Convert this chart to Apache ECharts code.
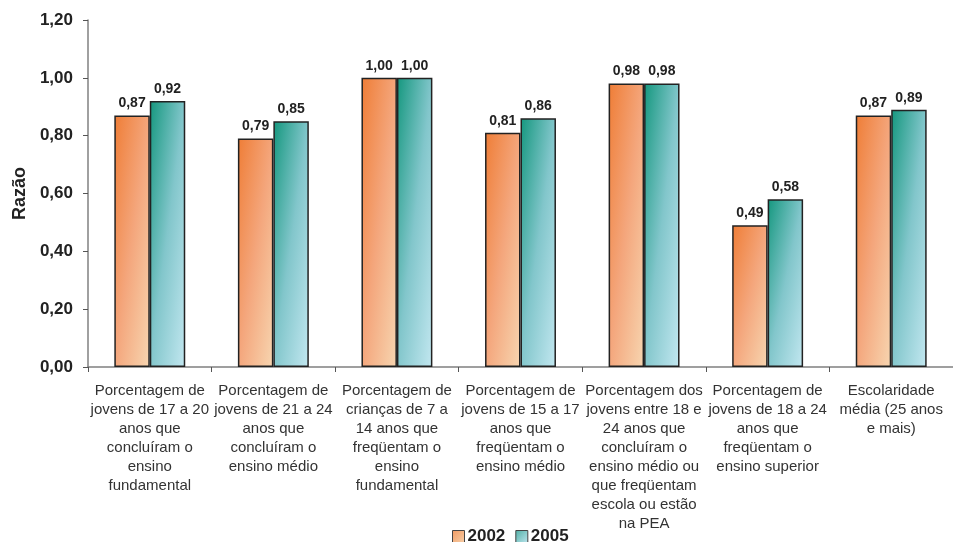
<!DOCTYPE html>
<html>
<head>
<meta charset="utf-8">
<script src="https://cdn.jsdelivr.net/npm/echarts@6/dist/echarts.min.js"></script>
<style>
html,body{margin:0;padding:0;background:#fff;}
#chart{width:953px;height:542px;}
</style>
</head>
<body>
<div id="chart"></div>
<script>
var categories = [
  "Porcentagem de\njovens de 17 a 20\nanos que\nconcluíram o\nensino\nfundamental",
  "Porcentagem de\njovens de 21 a 24\nanos que\nconcluíram o\nensino médio",
  "Porcentagem de\ncrianças de 7 a\n14 anos que\nfreqüentam o\nensino\nfundamental",
  "Porcentagem de\njovens de 15 a 17\nanos que\nfreqüentam o\nensino médio",
  "Porcentagem dos\njovens entre 18 e\n24 anos que\nconcluíram o\nensino médio ou\nque freqüentam\nescola ou estão\nna PEA",
  "Porcentagem de\njovens de 18 a 24\nanos que\nfreqüentam o\nensino superior",
  "Escolaridade\nmédia (25 anos\ne mais)"
];
var values2002 = [0.87, 0.79, 1.00, 0.81, 0.98, 0.49, 0.87];
var values2005 = [0.92, 0.85, 1.00, 0.86, 0.98, 0.58, 0.89];
var seriesNames = ["2002", "2005"];

var FONT = '"Liberation Sans", Arial, Helvetica, sans-serif';

var orangeStops = [
  {offset: 0, color: '#EF7D36'},
  {offset: 0.5, color: '#F4A67C'},
  {offset: 1, color: '#F7D5B0'}
];
var tealStops = [
  {offset: 0, color: '#14977E'},
  {offset: 0.5, color: '#82C6CB'},
  {offset: 1, color: '#C2E7F0'}
];

// diagonal gradient whose isolines follow the anti-diagonal of each bar
var BAR_W = 35.7, PX_PER_UNIT = 289;
function diagGrad(value, stops) {
  var w = BAR_W, h = Math.max(value * PX_PER_UNIT, 1);
  var d = w * w + h * h;
  return new echarts.graphic.LinearGradient(0, 0, 2 * h * h / d, 2 * w * w / d, stops);
}
function styled(values, stops) {
  return values.map(function (v) {
    return {value: v, itemStyle: {color: diagGrad(v, stops)}};
  });
}

function fmt(p) { return p.value.toFixed(2).replace('.', ','); }

var chart = echarts.init(document.getElementById('chart'), null, {renderer: 'canvas'});
chart.setOption({
  animation: false,
  backgroundColor: '#ffffff',
  textStyle: {fontFamily: FONT},
  grid: {left: 88, right: -7, top: 20, bottom: 175, containLabel: false},
  legend: {
    data: [
      {name: seriesNames[0], itemStyle: {color: new echarts.graphic.LinearGradient(0, 0, 1, 1, [
        {offset: 0, color: '#F29A62'}, {offset: 1, color: '#F7CFA8'}]), borderColor: '#444', borderWidth: 1}},
      {name: seriesNames[1], itemStyle: {color: new echarts.graphic.LinearGradient(0, 0, 1, 1, [
        {offset: 0, color: '#4FAFA5'}, {offset: 1, color: '#BDE5EE'}]), borderColor: '#444', borderWidth: 1}}
    ],
    left: 447,
    top: 523,
    itemWidth: 12,
    itemHeight: 12,
    itemGap: 10,
    textStyle: {fontFamily: FONT, fontSize: 17, fontWeight: 'bold', color: '#222', padding: [0, 0, 0, -2]},
    icon: 'rect'
  },
  xAxis: {
    type: 'category',
    data: categories,
    boundaryGap: true,
    axisLine: {show: true, lineStyle: {color: '#808080', width: 1.5}},
    axisTick: {show: true, length: 5, lineStyle: {color: '#555'}},
    axisLabel: {
      interval: 0,
      margin: 14,
      fontFamily: FONT,
      fontSize: 15,
      lineHeight: 19,
      color: '#333',
      align: 'center',
      verticalAlign: 'top'
    },
    splitLine: {show: false}
  },
  yAxis: {
    type: 'value',
    min: 0,
    max: 1.2,
    interval: 0.2,
    name: 'Razão',
    nameLocation: 'middle',
    nameGap: 59,
    nameRotate: 90,
    nameTextStyle: {fontFamily: FONT, fontSize: 18, fontWeight: 'bold', color: '#222'},
    axisLine: {show: true, lineStyle: {color: '#808080', width: 1.5}},
    axisTick: {show: true, length: 5, lineStyle: {color: '#555'}},
    axisLabel: {
      margin: 15,
      fontFamily: FONT,
      fontSize: 17,
      fontWeight: 'bold',
      color: '#222',
      formatter: function (v) { return v.toFixed(2).replace('.', ','); }
    },
    splitLine: {show: false}
  },
  series: [
    {
      name: seriesNames[0],
      type: 'bar',
      data: styled(values2002, orangeStops),
      barWidth: '28.7%',
      barGap: '0%',
      itemStyle: {borderColor: '#222', borderWidth: 1.5},
      label: {show: true, position: 'top', distance: 5, formatter: fmt,
        fontFamily: FONT, fontSize: 14, fontWeight: 'bold', color: '#222'}
    },
    {
      name: seriesNames[1],
      type: 'bar',
      data: styled(values2005, tealStops),
      barWidth: '28.7%',
      barGap: '0%',
      itemStyle: {borderColor: '#222', borderWidth: 1.5},
      label: {show: true, position: 'top', distance: 5, formatter: fmt,
        fontFamily: FONT, fontSize: 14, fontWeight: 'bold', color: '#222'}
    }
  ]
});
</script>
</body>
</html>
